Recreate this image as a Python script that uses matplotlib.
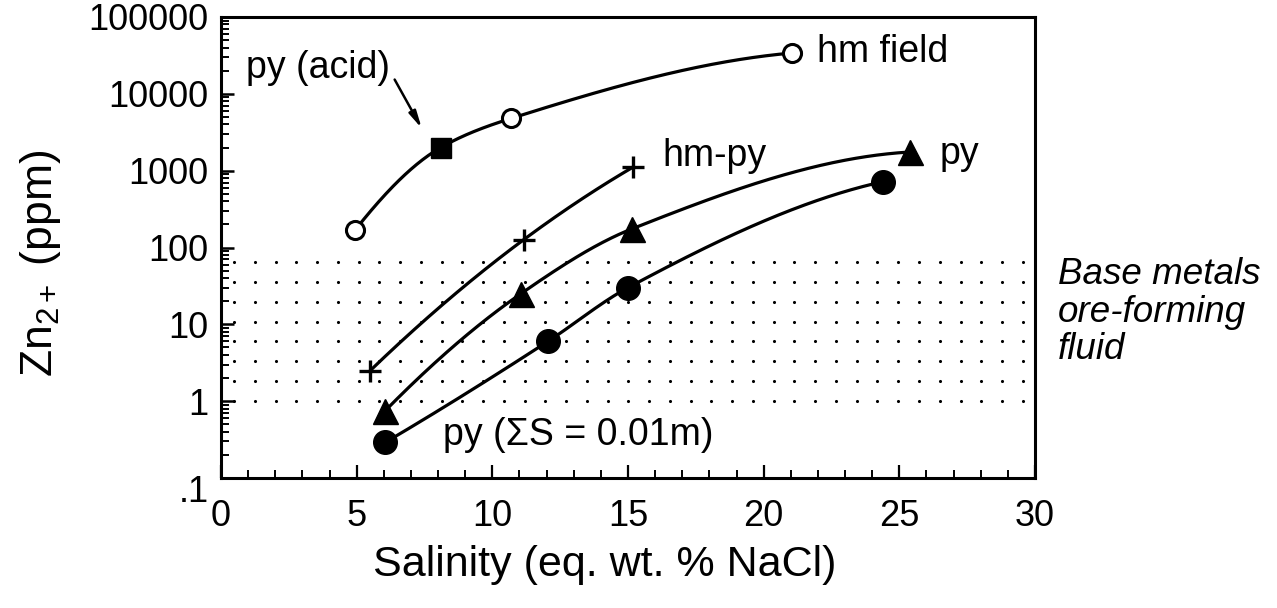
import numpy as np
import matplotlib
matplotlib.use("Agg")
import matplotlib.pyplot as plt
from matplotlib.ticker import FixedLocator, FixedFormatter, LogLocator, NullFormatter, MultipleLocator
from matplotlib.transforms import ScaledTranslation

plt.rcParams['font.family'] = ['Liberation Sans', 'DejaVu Sans']
plt.rcParams['mathtext.fontset'] = 'custom'
plt.rcParams['mathtext.rm'] = 'Liberation Sans'
plt.rcParams['mathtext.it'] = 'Liberation Sans:italic'

# ---- data ----
hm_field_x = [4.95, 10.7, 21.05]
hm_field_y = [170, 4800, 34000]
py_acid_x = [8.1]
py_acid_y = [2000]
hmpy_x = [5.5, 11.15, 15.2]
hmpy_y = [2.5, 126, 1120]
py_x = [6.05, 11.05, 15.15, 25.4]
py_y = [0.75, 25, 175, 1750]
pyS_x = [6.05, 12.05, 15.0, 24.4]
pyS_y = [0.29, 6.0, 30, 720]
ore_fluid_range = [1, 65]   # ppm Zn, base-metal ore-forming fluid field

xticks = [0, 5, 10, 15, 20, 25, 30]
xtick_labels = ['0', '5', '10', '15', '20', '25', '30']
yticks = [0.1, 1, 10, 100, 1000, 10000, 100000]
ytick_labels = ['.1', '1', '10', '100', '1000', '10000', '100000']


def pchip(x, y, xs):
    x = np.asarray(x, float); y = np.asarray(y, float)
    h = np.diff(x); d = np.diff(y) / h
    n = len(x)
    m = np.zeros(n)
    for k in range(1, n - 1):
        if d[k - 1] * d[k] > 0:
            w1 = 2 * h[k] + h[k - 1]; w2 = h[k] + 2 * h[k - 1]
            m[k] = (w1 + w2) / (w1 / d[k - 1] + w2 / d[k])
    def endp(h0, h1, d0, d1):
        v = ((2 * h0 + h1) * d0 - h0 * d1) / (h0 + h1)
        if np.sign(v) != np.sign(d0):
            v = 0.0
        elif np.sign(d0) != np.sign(d1) and abs(v) > abs(3 * d0):
            v = 3 * d0
        return v
    if n > 2:
        m[0] = endp(h[0], h[1], d[0], d[1])
        m[-1] = endp(h[-1], h[-2], d[-1], d[-2])
    else:
        m[:] = d[0]
    out = np.empty_like(xs)
    for i, xv in enumerate(xs):
        k = min(max(np.searchsorted(x, xv) - 1, 0), n - 2)
        t = (xv - x[k]) / h[k]
        h00 = 2 * t**3 - 3 * t**2 + 1; h10 = t**3 - 2 * t**2 + t
        h01 = -2 * t**3 + 3 * t**2; h11 = t**3 - t**2
        out[i] = h00 * y[k] + h10 * h[k] * m[k] + h01 * y[k + 1] + h11 * h[k] * m[k + 1]
    return out


def smooth(ax, xs, ys, **kw):
    order = np.argsort(xs)
    xs = np.asarray(xs, float)[order]; ys = np.asarray(ys, float)[order]
    xx = np.linspace(xs[0], xs[-1], 300)
    yy = 10 ** pchip(xs, np.log10(ys), xx)
    ax.plot(xx, yy, color='black', lw=2.3, zorder=3, solid_capstyle='round', **kw)


W, H = 1277, 608
fig = plt.figure(figsize=(W / 100, H / 100), dpi=100)
ax = fig.add_axes([221 / W, 1 - 478 / H, (1035 - 221) / W, (478 - 17) / H])
ax.set_xscale('linear')
ax.set_yscale('log')
ax.set_xlim(0, 30)
ax.set_ylim(0.1, 100000)

# dotted field (ore-forming fluid)
gx = np.arange(0.48, 29.6, 0.765)
gy = np.logspace(np.log10(ore_fluid_range[0]), np.log10(ore_fluid_range[1]), 8)
GX, GY = np.meshgrid(gx, gy)
ax.scatter(GX.ravel(), GY.ravel(), s=5, color='black', linewidths=0, zorder=1)

# curves
smooth(ax, hm_field_x + py_acid_x, hm_field_y + py_acid_y)
smooth(ax, hmpy_x, hmpy_y)
smooth(ax, py_x, py_y)
smooth(ax, pyS_x, pyS_y)

# markers
ax.plot(hm_field_x, hm_field_y, 'o', ms=13, mfc='white', mec='black', mew=2.2, ls='none', zorder=5)
ax.plot(py_acid_x, py_acid_y, 's', ms=15, mfc='black', mec='black', ls='none', zorder=5)
ax.plot(hmpy_x, hmpy_y, '+', ms=16, mec='black', mew=2.4, ls='none', zorder=5)
ax.plot(py_x, py_y, '^', ms=18, mfc='black', mec='black', ls='none', zorder=5)
ax.plot(pyS_x, pyS_y, 'o', ms=17, mfc='black', mec='black', ls='none', zorder=5)

# text labels
fs = 27
ax.text(0.92, 21700, 'py (acid)', fontsize=fs, va='center', ha='left')
ax.annotate('', xy=(7.45, 3300), xytext=(6.35, 16500),
            arrowprops=dict(arrowstyle='-|>,head_length=1.0,head_width=0.22', color='black', lw=1.8))
ax.text(21.95, 35000, 'hm field', fontsize=fs, va='center', ha='left')
ax.text(16.25, 1560, 'hm-py', fontsize=fs, va='center', ha='left')
ax.text(26.5, 1650, 'py', fontsize=fs, va='center', ha='left')
ax.text(8.2, 0.36, 'py (\u03a3S = 0.01m)', fontsize=fs, va='center', ha='left')
fig.text(1058 / W, 1 - 312 / H, 'Base metals\nore-forming\nfluid', fontsize=26.5, style='italic',
         va='center', ha='left', linespacing=1.08)

# axes styling
for s in ax.spines.values():
    s.set_linewidth(2.2)
ax.xaxis.set_major_locator(FixedLocator(xticks))
ax.xaxis.set_major_formatter(FixedFormatter(xtick_labels))
ax.xaxis.set_minor_locator(MultipleLocator(1))
ax.yaxis.set_major_locator(FixedLocator(yticks))
ax.yaxis.set_major_formatter(FixedFormatter(ytick_labels))
ax.yaxis.set_minor_locator(LogLocator(base=10, subs=np.arange(2, 10), numticks=20))
ax.yaxis.set_minor_formatter(NullFormatter())
ax.tick_params(axis='both', which='both', direction='in', top=False, right=False, color='black')
ax.tick_params(axis='x', which='major', length=9.5, width=1.6, labelsize=26, pad=15)
ax.tick_params(axis='x', which='minor', length=6, width=1.4)
ax.tick_params(axis='y', which='major', length=9, width=1.8, labelsize=26, pad=9)
ax.tick_params(axis='y', which='minor', length=6, width=1.4)

ax.set_xlabel('Salinity (eq. wt. % NaCl)', fontsize=31)
ax.xaxis.set_label_coords((605 - 221) / 814, (478 - 545) / 461)
ax.set_ylabel(r'Zn$_{2+}$ (ppm)', fontsize=32)
ax.yaxis.set_label_coords((63 - 221) / 814, (478 - 263) / 461)

fig.canvas.draw()
for lab in ax.get_yticklabels():
    if lab.get_text() == '.1':
        lab.set_transform(lab.get_transform() + ScaledTranslation(0, -0.11, fig.dpi_scale_trans))

fig.savefig('out.png', dpi=100)
